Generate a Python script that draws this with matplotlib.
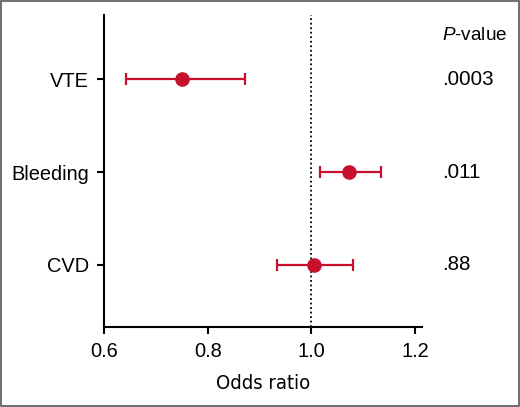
from matplotlib import pyplot as plt
from matplotlib.patches import Rectangle

# Forest plot data
outcomes = ['VTE', 'Bleeding', 'CVD']
odds_ratio = [0.750, 1.073, 1.005]
ci_low = [0.642, 1.017, 0.934]
ci_high = [0.872, 1.134, 1.080]
p_values = ['.0003', '.011', '.88']

red = '#C8102E'
plt.rcParams['font.family'] = ['Liberation Sans', 'DejaVu Sans']
plt.rcParams['mathtext.fontset'] = 'custom'
plt.rcParams['mathtext.it'] = 'Liberation Sans:italic'
plt.rcParams['mathtext.rm'] = 'Liberation Sans'

fig = plt.figure(figsize=(5.2, 4.07), dpi=100)
ax = fig.add_axes([0.2, 0.1966, 0.6115, 0.7666])

ypos = [3, 2, 1]
xerr = [[o - l for o, l in zip(odds_ratio, ci_low)],
        [h - o for o, h in zip(odds_ratio, ci_high)]]
ax.errorbar(odds_ratio, ypos, xerr=xerr, fmt='o', color=red, ecolor=red,
            markersize=9.5, elinewidth=1.6, capsize=4.3, capthick=1.6, zorder=3)

ax.axvline(1.0, color='black', linestyle=(0, (1, 1.5)), linewidth=1.3, zorder=1)

ax.set_xlim(0.6, 1.213)
ax.set_ylim(0.333, 3.69)
ax.set_xticks([0.6, 0.8, 1.0, 1.2])
ax.set_xticklabels(['0.6', '0.8', '1.0', '1.2'])
ax.set_yticks(ypos)
ax.set_yticklabels(outcomes)

for side in ['top', 'right']:
    ax.spines[side].set_visible(False)
for side in ['left', 'bottom']:
    ax.spines[side].set_linewidth(1.5)
ax.tick_params(axis='both', length=5, width=1.5, labelsize=14.4)
ax.tick_params(axis='x', pad=6)
ax.tick_params(axis='y', pad=6)

ax.set_xlabel('Odds ratio', fontsize=14.5, labelpad=9,
              family=['DejaVu Sans'], stretch='condensed')

# P-values column
ax.text(1.251, 3.473, r'$\mathit{P}$-value', fontsize=13.6, va='center', ha='left',
        clip_on=False)
for y, p in zip(ypos, p_values):
    ax.text(1.251, y, p, fontsize=14.8, va='center', ha='left', clip_on=False)

# Thin frame round the figure
fig.patches.append(Rectangle((0.002, 0.002), 0.996, 0.996, transform=fig.transFigure,
                             fill=False, edgecolor='#555555', linewidth=1.2))

plt.savefig('out.png', dpi=100)
plt.close()
